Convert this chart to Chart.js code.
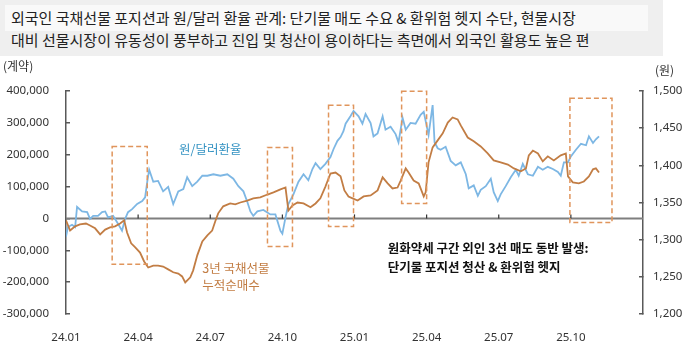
<!DOCTYPE html>
<html>
<head>
<meta charset="utf-8">
<script src="https://cdn.jsdelivr.net/npm/chart.js@4.4.0/dist/chart.umd.min.js"></script>
<style>
  body { margin: 0; background: #fff; font-family: "Noto Sans CJK KR", "Noto Sans", sans-serif; }
  #wrap { position: relative; width: 689px; height: 353px; }
  #band { position: absolute; left: 0; top: 0; width: 663px; height: 56px; background: #efefef; }
  #band .hl { position: absolute; left: 5px; top: 5px; width: 643px; height: 26px; background: #f9f9f9; }
  #band .t { position: absolute; left: 11px; font-size: 15px; line-height: 20px; color: #222; white-space: nowrap; }
  canvas { position: absolute; left: 0; top: 0; }
</style>
</head>
<body>
<div id="wrap">
  <canvas id="chart" width="689" height="353"></canvas>
  <div id="band">
    <div class="hl"></div>
    <div class="t" style="top:8px">외국인 국채선물 포지션과 원/달러 환율 관계: 단기물 매도 수요 &amp; 환위험 헷지 수단, 현물시장</div>
    <div class="t" style="top:30px">대비 선물시장이 유동성이 풍부하고 진입 및 청산이 용이하다는 측면에서 외국인 활용도 높은 편</div>
  </div>
</div>
<script>
// x값: 2024.01 시작 기준 경과 개월수
const futMonths = [0, 0.17, 0.38, 0.58, 0.83, 1.0, 1.21, 1.42, 1.63, 1.83,
  2.04, 2.25, 2.42, 2.54, 2.71, 2.88, 3.08, 3.25, 3.42, 3.63,
  3.83, 4.04, 4.25, 4.46, 4.67, 4.83, 4.96, 5.17, 5.29, 5.46,
  5.67, 5.88, 6.08, 6.21, 6.33, 6.54, 6.83, 7.04, 7.25, 7.54,
  7.79, 8.08, 8.38, 8.63, 8.92, 9.13, 9.25, 9.42, 9.63, 9.88,
  10.17, 10.38, 10.58, 10.79, 11.0, 11.21, 11.42, 11.58, 11.75, 11.92,
  12.13, 12.38, 12.67, 12.96, 13.17, 13.38, 13.58, 13.79, 13.92, 14.13,
  14.25, 14.46, 14.67, 14.88, 14.96, 15.08, 15.25, 15.46, 15.67, 15.88,
  16.08, 16.29, 16.42, 16.71, 16.96, 17.25, 17.54, 17.79, 18.08, 18.38,
  18.63, 18.92, 19.13, 19.25, 19.42, 19.63, 19.83, 20.04, 20.29, 20.58,
  20.79, 20.88, 21.08, 21.33, 21.54, 21.75, 21.92, 22.04, 22.17];
// 3년 국채선물 외국인 누적순매수 (계약)
const futNetBuy = [-6000, -38000, -25000, -19000, -16000, -22000, -31000, -50000, -35000, -28000,
  -25000, -16000, -6000, -44000, -78000, -91000, -107000, -135000, -154000, -148000,
  -148000, -151000, -160000, -169000, -173000, -182000, -201000, -185000, -163000, -116000,
  -72000, -53000, -38000, -9000, 16000, 38000, 47000, 44000, 50000, 56000,
  63000, 66000, 75000, 82000, 91000, 97000, 25000, 41000, 50000, 47000,
  35000, 47000, 63000, 100000, 141000, 144000, 132000, 88000, 69000, 63000,
  56000, 69000, 72000, 88000, 129000, 110000, 94000, 97000, 119000, 157000,
  144000, 119000, 110000, 69000, 82000, 176000, 223000, 245000, 267000, 301000,
  317000, 311000, 292000, 254000, 242000, 226000, 204000, 182000, 176000, 169000,
  157000, 148000, 157000, 198000, 213000, 204000, 179000, 195000, 182000, 198000,
  204000, 132000, 113000, 110000, 116000, 132000, 154000, 157000, 144000];

const fxMonths = [0, 0.08, 0.25, 0.38, 0.46, 0.67, 0.88, 1.0, 1.13, 1.33,
  1.5, 1.63, 1.75, 1.96, 2.17, 2.33, 2.46, 2.58, 2.75, 2.96,
  3.17, 3.29, 3.38, 3.46, 3.63, 3.83, 4.04, 4.25, 4.46, 4.67,
  4.88, 5.04, 5.25, 5.46, 5.67, 5.88, 6.13, 6.42, 6.71, 6.96,
  7.17, 7.38, 7.54, 7.67, 7.79, 7.96, 8.21, 8.5, 8.71, 8.92,
  9.0, 9.13, 9.25, 9.46, 9.67, 9.88, 10.08, 10.25, 10.38, 10.58,
  10.79, 11.0, 11.13, 11.29, 11.42, 11.54, 11.63, 11.83, 11.96, 12.17,
  12.33, 12.46, 12.67, 12.79, 12.96, 13.17, 13.29, 13.5, 13.71, 13.83,
  14.0, 14.13, 14.33, 14.54, 14.75, 14.88, 15.08, 15.25, 15.33, 15.46,
  15.58, 15.79, 16.0, 16.21, 16.42, 16.63, 16.75, 16.96, 17.13, 17.25,
  17.46, 17.67, 17.79, 17.96, 18.08, 18.29, 18.5, 18.71, 18.83, 19.0,
  19.21, 19.42, 19.63, 19.83, 20.04, 20.25, 20.46, 20.58, 20.71, 20.88,
  21.0, 21.21, 21.42, 21.63, 21.75, 21.92, 22.04, 22.17];
// 원/달러 환율 (원)
const fxRate = [1304, 1317, 1320, 1317, 1344, 1338, 1337, 1328, 1332, 1332,
  1337, 1338, 1330, 1332, 1321, 1312, 1328, 1337, 1341, 1348,
  1352, 1357, 1378, 1394, 1378, 1379, 1365, 1371, 1348, 1365,
  1368, 1384, 1372, 1378, 1386, 1386, 1388, 1386, 1388, 1382,
  1372, 1365, 1351, 1338, 1332, 1338, 1340, 1334, 1334, 1312,
  1308, 1330, 1348, 1361, 1378, 1388, 1380, 1395, 1403, 1395,
  1402, 1411, 1422, 1433, 1438, 1446, 1456, 1466, 1473, 1466,
  1456, 1469, 1457, 1439, 1443, 1466, 1448, 1452, 1442, 1431,
  1464, 1448, 1457, 1456, 1468, 1472, 1441, 1481, 1431, 1423,
  1421, 1425, 1406, 1400, 1404, 1388, 1369, 1373, 1359, 1367,
  1372, 1382, 1364, 1352, 1361, 1372, 1384, 1394, 1386, 1402,
  1388, 1386, 1398, 1394, 1398, 1395, 1391, 1386, 1404, 1404,
  1412, 1421, 1429, 1427, 1439, 1430, 1435, 1439];

// 원화약세 + 외인 3선 매도 구간 (점선 박스)
const boxFrom = [1.92, 8.38, 10.92, 13.96, 20.96];
const boxTo = [3.38, 9.42, 11.96, 15.0, 22.71];
const boxHigh = [226000, 223000, 355000, 399000, 377000];
const boxLow = [-144000, -88000, -25000, 47000, -13000];

const quarterTicks = [3, 6, 9, 12, 15, 18, 21];

const monthLabel = (m) => {
  const yy = 24 + Math.floor(m / 12);
  const mm = (m % 12) + 1;
  return yy + "." + String(mm).padStart(2, "0");
};

const axisColor = "#595959";
const blue = "#7db7e4";
const orange = "#c27d44";
const kr = '"Noto Sans CJK KR", "Noto Sans", sans-serif';

const overlay = {
  id: "overlay",
  beforeDatasetsDraw(chart) {
    const { ctx, chartArea, scales } = chart;
    const y0 = scales.y.getPixelForValue(0);
    ctx.save();
    ctx.strokeStyle = "#7f7f7f";
    ctx.lineWidth = 2;
    ctx.beginPath();
    ctx.moveTo(chartArea.left, y0);
    ctx.lineTo(chartArea.right, y0);
    ctx.stroke();
    ctx.strokeStyle = "#333";
    ctx.lineWidth = 1.2;
    quarterTicks.forEach((m) => {
      const x = scales.x.getPixelForValue(m);
      ctx.beginPath();
      ctx.moveTo(x, y0);
      ctx.lineTo(x, y0 - 4);
      ctx.stroke();
    });
    ctx.restore();
  },
  afterDatasetsDraw(chart) {
    const { ctx, scales } = chart;
    const { x, y, y1 } = scales;
    ctx.save();
    // 점선 박스
    ctx.strokeStyle = "#e0955c";
    ctx.lineWidth = 1.5;
    ctx.setLineDash([5, 3]);
    boxFrom.forEach((from, i) => {
      const l = x.getPixelForValue(from);
      const r = x.getPixelForValue(boxTo[i]);
      const t = y.getPixelForValue(boxHigh[i]);
      const b = y.getPixelForValue(boxLow[i]);
      ctx.strokeRect(l, t, r - l, b - t);
    });
    ctx.setLineDash([]);

    // 시리즈 라벨
    ctx.textBaseline = "middle";
    ctx.font = "12.5px " + kr;
    ctx.fillStyle = "#3593c3";
    ctx.textAlign = "center";
    ctx.fillText("원/달러환율", x.getPixelForValue(6.0), y1.getPixelForValue(1422));
    ctx.fillStyle = orange;
    ctx.textAlign = "left";
    ctx.fillText("3년 국채선물", x.getPixelForValue(5.67), y.getPixelForValue(-157000));
    ctx.fillText("누적순매수", x.getPixelForValue(5.67), y.getPixelForValue(-210000));

    // 주석
    ctx.fillStyle = "#111";
    ctx.font = "bold 12.5px " + kr;
    ctx.fillText("원화약세 구간 외인 3선 매도 동반 발생:", x.getPixelForValue(13.38), y.getPixelForValue(-94000));
    ctx.fillText("단기물 포지션 청산 & 환위험 헷지", x.getPixelForValue(13.38), y.getPixelForValue(-153000));

    // 단위
    ctx.font = "12px " + kr;
    ctx.fillStyle = "#333";
    ctx.fillText("(계약)", 3, 66);
    ctx.fillText("(원)", 655, 70);
    ctx.restore();
  }
};

new Chart(document.getElementById("chart"), {
  type: "line",
  data: {
    datasets: [
      {
        label: "3년 국채선물 누적순매수",
        data: futMonths.map((m, i) => ({ x: m, y: futNetBuy[i] })),
        yAxisID: "y",
        borderColor: orange,
        borderWidth: 1.8,
        pointRadius: 0,
        tension: 0
      },
      {
        label: "원/달러환율",
        data: fxMonths.map((m, i) => ({ x: m, y: fxRate[i] })),
        yAxisID: "y1",
        borderColor: blue,
        borderWidth: 1.8,
        pointRadius: 0,
        tension: 0
      }
    ]
  },
  options: {
    responsive: false,
    animation: false,
    layout: { padding: { top: 91, left: 0, right: 0, bottom: 0 } },
    plugins: { legend: { display: false }, tooltip: { enabled: false } },
    scales: {
      x: {
        type: "linear",
        min: 0,
        max: 24,
        grid: { display: false },
        border: { display: false },
        ticks: {
          stepSize: 3,
          autoSkip: false,
          maxRotation: 0,
          padding: 9,
          color: "#333",
          font: { size: 11.5, family: "Noto Sans" },
          callback: (v) => (v >= 24 ? "" : monthLabel(v))
        },
        afterFit: (s) => { s.height = 39; }
      },
      y: {
        position: "left",
        min: -300000,
        max: 400000,
        grid: { drawOnChartArea: false, tickLength: -4, tickColor: axisColor, lineWidth: 1.5 },
        border: { color: axisColor, width: 1.5 },
        ticks: {
          stepSize: 100000,
          padding: 21,
          color: "#333",
          font: { size: 11.5, family: "Noto Sans" },
          callback: (v) => v.toLocaleString("en-US")
        },
        afterFit: (s) => { s.width = 66; }
      },
      y1: {
        position: "right",
        min: 1200,
        max: 1500,
        grid: { drawOnChartArea: false, tickLength: -4, tickColor: axisColor, lineWidth: 1.5 },
        border: { color: axisColor, width: 1.5 },
        ticks: {
          stepSize: 50,
          padding: 14,
          color: "#333",
          font: { size: 11.5, family: "Noto Sans" },
          callback: (v) => v.toLocaleString("en-US")
        },
        afterFit: (s) => { s.width = 46; }
      }
    }
  },
  plugins: [overlay]
});
</script>
</body>
</html>
